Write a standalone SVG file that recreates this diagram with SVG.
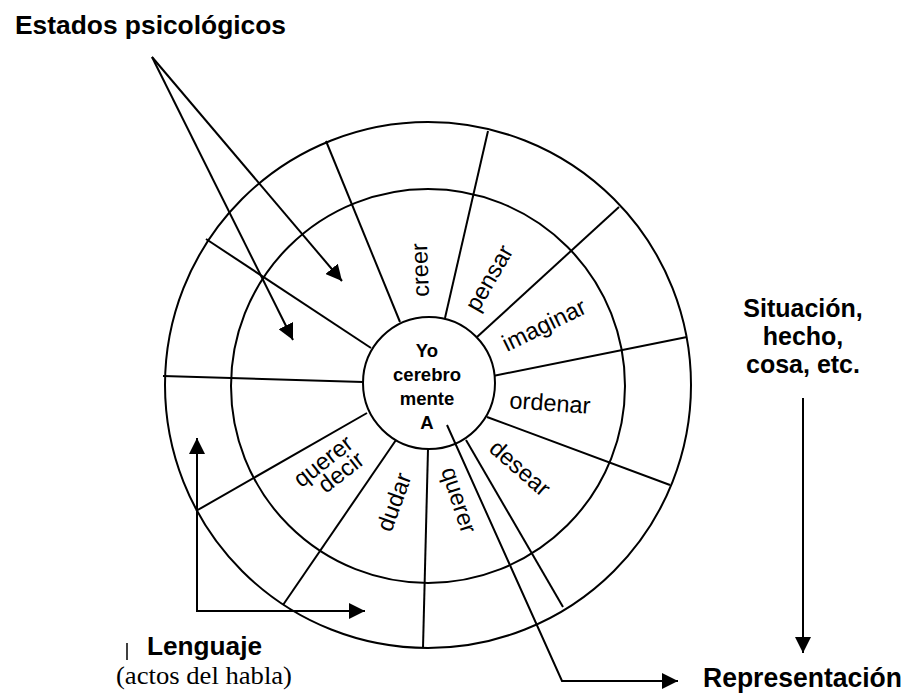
<svg xmlns="http://www.w3.org/2000/svg" width="906" height="694" viewBox="0 0 906 694">
<style>
.ln{stroke:#000;stroke-width:2;fill:none}
.bold{font-family:"Liberation Sans",Arial,sans-serif;font-weight:bold;fill:#000}
.lab{font-family:"Liberation Sans",Arial,sans-serif;font-size:23.5px;fill:#000;text-anchor:middle;dominant-baseline:central}
.ser{font-family:"Liberation Serif","Times New Roman",serif;fill:#000}
</style>
<defs>
<marker id="ah" markerUnits="userSpaceOnUse" markerWidth="16" markerHeight="16" refX="15" refY="7.5" orient="auto-start-reverse" viewBox="0 0 15 15">
<path d="M0,0 L15,7.5 L0,15 z" fill="#000"/>
</marker>
</defs>
<rect width="906" height="694" fill="#fff"/>
<g id="wheel">
<g id="spokes" class="ln">
<line x1="400" y1="322" x2="326" y2="141"/>
<line x1="445" y1="318" x2="488" y2="131"/>
<line x1="477" y1="337" x2="619" y2="207"/>
<line x1="493" y1="376" x2="687" y2="337"/>
<line x1="487" y1="417" x2="670" y2="485"/>
<line x1="466" y1="440" x2="563" y2="607"/>
<line x1="428" y1="449" x2="423" y2="648"/>
<line x1="396" y1="440" x2="283" y2="605"/>
<line x1="367" y1="413" x2="196" y2="511"/>
<line x1="363" y1="382" x2="163" y2="376"/>
<line x1="371" y1="348" x2="206" y2="239"/>
</g>
<circle id="outer-ring" class="ln" cx="428" cy="385" r="263"/>
<circle id="inner-ring" class="ln" cx="428" cy="386" r="197"/>
</g>
<g id="center">
<circle cx="429" cy="383" r="66" fill="#fff" stroke="#000" stroke-width="2"/>
<g class="bold" font-size="18.5" text-anchor="middle">
<text x="427" y="357">Yo</text>
<text x="427" y="381">cerebro</text>
<text x="427" y="405">mente</text>
<text x="427" y="429">A</text>
</g>
</g>
<g id="sector-labels" class="lab">
<text transform="translate(420,270) rotate(-92)">creer</text>
<text transform="translate(489,278) rotate(-60)">pensar</text>
<text transform="translate(544,325) rotate(-26)">imaginar</text>
<text transform="translate(550,403) rotate(4)">ordenar</text>
<text transform="translate(520,468) rotate(41)">desear</text>
<text transform="translate(459,500) rotate(72)">querer</text>
<text transform="translate(394,502) rotate(-70)">dudar</text>
<text transform="translate(323,461) rotate(-38)">querer</text>
<text transform="translate(341,472) rotate(-38)">decir</text>
</g>
<g id="connectors" class="ln">
<line x1="152" y1="57" x2="342" y2="281" marker-end="url(#ah)"/>
<line x1="152" y1="57" x2="293" y2="340" marker-end="url(#ah)"/>
<polyline points="197,438 197,611 365,611" marker-start="url(#ah)" marker-end="url(#ah)"/>
<line x1="803" y1="398" x2="803" y2="653" marker-end="url(#ah)"/>
<polyline points="447,425 562,681 678,681" marker-end="url(#ah)"/>
</g>
<g id="estados">
<text class="bold" x="15" y="34" font-size="25" textLength="271" lengthAdjust="spacingAndGlyphs">Estados psicológicos</text>
</g>
<g id="situacion" class="bold" font-size="25" text-anchor="middle">
<text x="803" y="317">Situación,</text>
<text x="803" y="345">hecho,</text>
<text x="803" y="373">cosa, etc.</text>
</g>
<g id="representacion">
<text class="bold" x="703" y="687" font-size="27" textLength="199" lengthAdjust="spacingAndGlyphs">Representación</text>
</g>
<g id="lenguaje">
<line x1="127" y1="643" x2="127" y2="660" stroke="#000" stroke-width="1.5"/>
<text class="bold" x="147" y="655" font-size="25" textLength="115" lengthAdjust="spacingAndGlyphs">Lenguaje</text>
<text class="ser" x="116" y="684" font-size="26" textLength="176" lengthAdjust="spacingAndGlyphs">(actos del habla)</text>
</g>
</svg>
